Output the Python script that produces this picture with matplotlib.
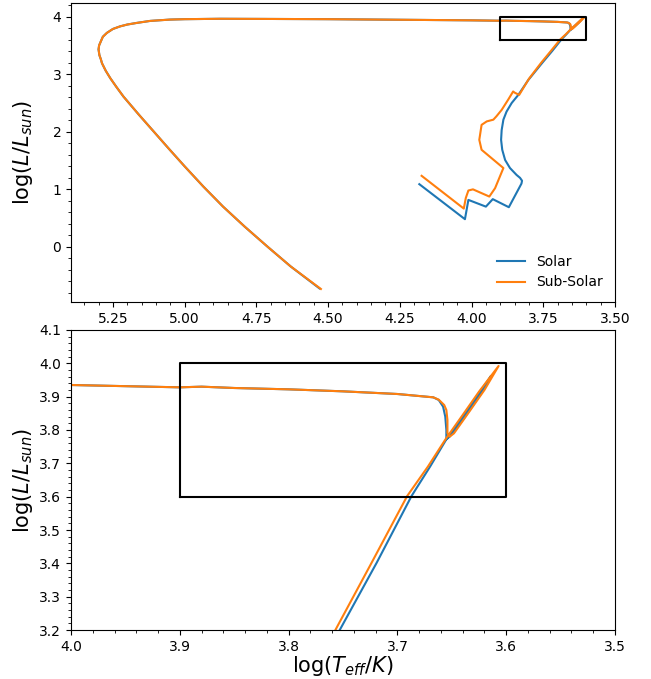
import matplotlib
matplotlib.use("Agg")
import matplotlib.pyplot as plt

# ---- Data ----
# Solar track: log Teff, log L
solar_logT = [4.182, 4.023, 4.011, 3.950, 3.926, 3.870, 3.826, 3.824, 3.831, 3.843,
              3.866, 3.883, 3.893, 3.897, 3.895, 3.889, 3.878, 3.860, 3.837, 3.802,
              3.753, 3.719, 3.687, 3.670, 3.655, 3.640, 3.627, 3.614, 3.624, 3.640,
              3.652, 3.655, 3.655, 3.656, 3.658, 3.662, 3.667, 3.700, 3.750, 3.800,
              3.850, 3.880, 3.900, 4.000, 4.250, 4.500, 4.750, 4.877, 5.000, 5.051,
              5.120, 5.167, 5.200, 5.225, 5.250, 5.271, 5.285, 5.292, 5.298, 5.300,
              5.297, 5.292, 5.288, 5.275, 5.259, 5.238, 5.213, 5.160, 5.107, 5.054,
              5.000, 4.935, 4.866, 4.790, 4.710, 4.630, 4.530]
solar_logL = [1.090, 0.482, 0.817, 0.700, 0.830, 0.690, 1.100, 1.150, 1.200, 1.250,
              1.370, 1.510, 1.687, 1.860, 2.030, 2.210, 2.350, 2.500, 2.640, 2.900,
              3.200, 3.402, 3.602, 3.690, 3.772, 3.840, 3.900, 3.962, 3.905, 3.830,
              3.780, 3.772, 3.800, 3.840, 3.870, 3.890, 3.898, 3.908, 3.916, 3.922,
              3.926, 3.930, 3.928, 3.935, 3.945, 3.955, 3.960, 3.962, 3.955, 3.948,
              3.925, 3.890, 3.862, 3.830, 3.785, 3.717, 3.650, 3.570, 3.500, 3.430,
              3.330, 3.260, 3.190, 3.060, 2.930, 2.780, 2.610, 2.300, 2.000, 1.700,
              1.400, 1.050, 0.700, 0.350, 0.000, -0.340, -0.720]

# Sub-Solar track: log Teff, log L
sub_logT = [4.174, 4.027, 4.020, 4.011, 3.995, 3.938, 3.918, 3.889, 3.965, 3.973,
            3.965, 3.947, 3.924, 3.913, 3.895, 3.872, 3.855, 3.850, 3.834, 3.800,
            3.757, 3.724, 3.691, 3.672, 3.655, 3.640, 3.625, 3.607, 3.620, 3.635,
            3.648, 3.652, 3.654, 3.654, 3.655, 3.657, 3.662, 3.667, 3.700, 3.750,
            3.800, 3.850, 3.880, 3.900, 4.000, 4.250, 4.500, 4.750, 4.877, 5.000,
            5.051, 5.120, 5.167, 5.200, 5.225, 5.250, 5.271, 5.285, 5.292, 5.298,
            5.300, 5.297, 5.292, 5.288, 5.275, 5.259, 5.238, 5.213, 5.160, 5.107,
            5.054, 5.000, 4.935, 4.866, 4.790, 4.710, 4.630, 4.525]
sub_logL = [1.235, 0.666, 0.850, 0.980, 1.000, 0.875, 1.020, 1.370, 1.687, 1.860,
            2.120, 2.180, 2.210, 2.270, 2.380, 2.560, 2.700, 2.680, 2.640, 2.920,
            3.200, 3.400, 3.602, 3.690, 3.776, 3.845, 3.915, 3.992, 3.920, 3.850,
            3.790, 3.780, 3.790, 3.830, 3.860, 3.875, 3.891, 3.898, 3.908, 3.916,
            3.922, 3.926, 3.930, 3.928, 3.935, 3.945, 3.955, 3.960, 3.962, 3.955,
            3.948, 3.925, 3.890, 3.862, 3.830, 3.785, 3.717, 3.650, 3.570, 3.500,
            3.430, 3.330, 3.260, 3.190, 3.060, 2.930, 2.780, 2.610, 2.300, 2.000,
            1.700, 1.400, 1.050, 0.700, 0.350, 0.000, -0.340, -0.730]

# Zoom box
box_logT = [3.9, 3.6, 3.6, 3.9, 3.9]
box_logL = [3.6, 3.6, 4.0, 4.0, 3.6]

labels = ["Solar", "Sub-Solar"]

fig = plt.figure(figsize=(6.51, 6.79), dpi=100)
W, H = 651.0, 679.0
ax1 = fig.add_axes([71 / W, (H - 302) / H, 544 / W, 299 / H])
ax2 = fig.add_axes([71 / W, (H - 630) / H, 544 / W, 300 / H])

for ax in (ax1, ax2):
    ax.plot(solar_logT, solar_logL, color="#1f77b4", lw=1.5, label=labels[0])
    ax.plot(sub_logT, sub_logL, color="#ff7f0e", lw=1.5, label=labels[1])
    ax.plot(box_logT, box_logL, color="black", lw=1.5)
    ax.minorticks_on()
    ax.set_ylabel(r"$\log(L/L_{sun})$", fontsize=15)
    ax.yaxis.set_label_coords(-0.066, 0.5)

ax1.set_xlim(5.396, 3.5)
ax1.set_ylim(-0.956, 4.236)
ax1.set_xticks([5.25, 5.00, 4.75, 4.50, 4.25, 4.00, 3.75, 3.50])
ax1.set_xticklabels(["5.25", "5.00", "4.75", "4.50", "4.25", "4.00", "3.75", "3.50"])
ax1.set_yticks([0, 1, 2, 3, 4])
ax1.legend(loc="lower right", frameon=False, fontsize=10)

ax2.set_xlim(4.0, 3.5)
ax2.set_ylim(3.2, 4.1)
ax2.set_xticks([4.0, 3.9, 3.8, 3.7, 3.6, 3.5])
ax2.set_xlabel(r"$\log(T_{eff}/K)$", fontsize=15, labelpad=0)

fig.savefig("out.png", dpi=100)
